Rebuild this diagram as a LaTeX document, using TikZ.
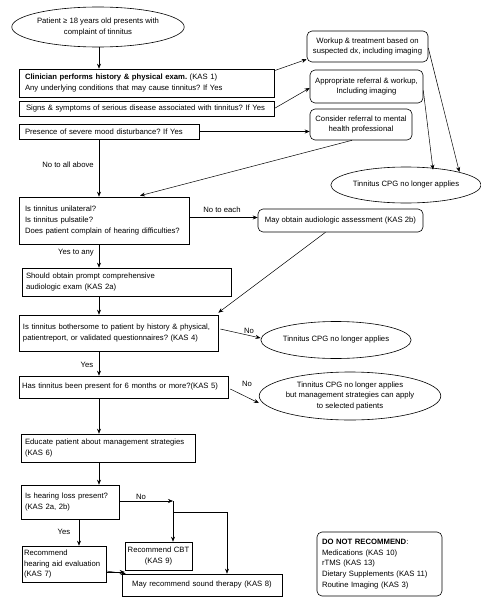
\documentclass[tikz,border=0pt]{standalone}
\usepackage{fontspec}
\setmainfont{Liberation Sans}
\usetikzlibrary{shapes.geometric,arrows.meta}
\frenchspacing
\begin{document}
\begin{tikzpicture}[x=1pt,y=-1pt,
  font=\fontsize{7.7}{10.8}\selectfont\frenchspacing,
  box/.style={draw, line width=0.6pt, rectangle, align=left, inner xsep=6pt, inner ysep=0pt},
  cbox/.style={draw, line width=0.6pt, rectangle, align=center, inner xsep=2pt, inner ysep=0pt},
  rbox/.style={draw, line width=0.6pt, rounded corners=5pt, align=center, inner sep=0pt},
  oval/.style={draw, line width=0.6pt, ellipse, align=center, inner sep=0pt},
  arr/.style={-{Stealth[length=5pt,width=4pt]}, line width=0.5pt},
  lbl/.style={inner sep=0pt}
]
\useasboundingbox (0,0) rectangle (480,597);
\coordinate (sp) at (99,0);
\coordinate (sp2) at (79,0);

% nodes
\node[oval, minimum width=170pt, minimum height=40pt] (start) at (98,27) {Patient ≥ 18 years old presents with\\complaint of tinnitus};
\node[box, text width=243pt, minimum height=28pt] (b1) at (146.5,83) {\textbf{Clinician performs history \& physical exam.} (KAS 1)\\Any underlying conditions that may cause tinnitus? If Yes};
\node[box, inner xsep=3pt, text width=249pt, minimum height=15pt] (b2) at (146.5,108.5) {\hspace*{4pt}Signs \& symptoms of serious disease associated with tinnitus? If Yes};
\node[box, text width=168pt, minimum height=15pt] (b3) at (109,131.5) {Presence of severe mood disturbance? If Yes};
\node[rbox, minimum width=121pt, minimum height=31pt] (r1) at (367.5,46.5) {Workup \& treatment based on\\suspected dx, including imaging};
\node[rbox, minimum width=113pt, minimum height=33pt] (r2) at (366.5,86.5) {Appropriate referral \& workup,\\Including imaging};
\node[rbox, minimum width=102pt, minimum height=31pt] (r3) at (361,124.5) {Consider referral to mental\\health professional};
\node[oval, minimum width=125pt, minimum height=36pt] (e2) at (406,185) {Tinnitus CPG no longer applies};
\node[box, text width=158pt, minimum height=47pt] (b4) at (104,220.5) {Is tinnitus unilateral?\\Is tinnitus pulsatile?\\Does patient complain of hearing difficulties?};
\node[rbox, minimum width=165pt, minimum height=23pt] (r4) at (340.5,220.5) {May obtain audiologic assessment (KAS 2b)};
\node[box, inner xsep=4pt, text width=201pt, minimum height=28pt] (b5) at (126.5,282) {Should obtain prompt comprehensive\\audiologic exam (KAS 2a)};
\node[box, inner xsep=4pt, text width=191pt, minimum height=36pt] (b6) at (118.5,333) {Is tinnitus bothersome to patient by history \& physical,\\patientreport, or validated questionnaires? (KAS 4)};
\node[oval, minimum width=126pt, minimum height=37pt] (e3) at (336,340) {Tinnitus CPG no longer applies};
\node[box, inner xsep=3pt, text width=203pt, minimum height=22pt] (b7) at (123.5,387) {Has tinnitus been present for 6 months or more?(KAS 5)};
\node[oval, minimum width=155pt, minimum height=48pt] (e4) at (350,396) {Tinnitus CPG no longer applies\\but management strategies can apply\\to selected patients};
\node[box, inner xsep=4pt, text width=166pt, minimum height=28pt] (b8) at (108,448) {Educate patient about management strategies\\(KAS 6)};
\node[box, inner xsep=4pt, text width=90pt, minimum height=34pt] (b9) at (70,502) {Is hearing loss present?\\(KAS 2a, 2b)};
\node[box, inner xsep=2pt, text width=80pt, minimum height=36pt] (b10) at (64,564) {Recommend\\hearing aid evaluation\\(KAS 7)};
\node[cbox, text width=63pt, minimum height=28pt] (cbt) at (158.5,556) {Recommend CBT\\(KAS 9)};
\node[cbox, text width=156pt, minimum height=22pt] (st) at (202,585) {May recommend sound therapy (KAS 8)};
\node[rbox, align=left, inner xsep=5pt, text width=115pt, minimum height=64pt] (dnr) at (379.5,564) {\textbf{DO NOT RECOMMEND}:\\Medications (KAS 10)\\rTMS (KAS 13)\\Dietary Supplements (KAS 11)\\Routine Imaging (KAS 3)};

% labels
\node[lbl] (l1) at (68,165) {No to all above};
\node[lbl] (l2) at (222,210) {No to each};
\node[lbl] (l3) at (76,253) {Yes to any};
\node[lbl] (l4) at (249,331) {No};
\node[lbl] (l5) at (87,365) {Yes};
\node[lbl] (l6) at (247,384) {No};
\node[lbl] (l7) at (141,497) {No};
\node[lbl] (l8) at (64,532) {Yes};

% junctions
\coordinate (j1) at (173,501);
\coordinate (j2) at (173,512);

% connectors
\draw[arr] (start.south -| sp) -- (b1.north -| sp);
\draw[arr] ([yshift=-2pt]b1.north east) -- ([yshift=3pt]r1.south west);
\draw[arr] (b2.east) -- ([yshift=-1.5pt]r2.west);
\draw[arr] (b3.east) -- (b3.east -| r3.west);
\draw[arr] (b3.south -| sp) -- (b4.north -| sp);
\draw[arr] ([xshift=-9pt]r3.south) -- ([xshift=36pt,yshift=1pt]b4.north);
\draw[arr] ([yshift=-1.5pt]r1.east) -- (e2.north east);
\draw[arr] ([yshift=-4pt]r2.east) -- ([xshift=27pt,yshift=-3pt]e2.north);
\draw[arr] ([yshift=3pt]b4.east) -- ([yshift=3pt]r4.west);
\draw[arr] (b4.south -| sp) -- (b5.north -| sp);
\draw[arr] ([xshift=-15pt]r4.south) -- ([yshift=2pt]b6.north east);
\draw[arr] (b5.south -| sp) -- (b6.north -| sp);
\draw[arr] ([xshift=2pt,yshift=4pt]b6.east) -- ([yshift=2pt]e3.west);
\draw[arr] (b6.south -| sp) -- (b7.north -| sp);
\draw[arr] ([xshift=2pt,yshift=-2pt]b7.east) -- ([yshift=-7pt]e4.west);
\draw[arr] (b7.south -| sp) -- (b8.north -| sp);
\draw[arr] (b8.south -| sp) -- (b9.north -| sp);
\draw[arr] (b9.east |- j1) -- (j1);
\draw[arr] (j1) -- (j1 |- cbt.north);
\draw[arr] (j2) -| ([xshift=25pt]st.north);
\draw[arr] (b9.south -| sp2) -- (b10.north -| sp2);
\draw[arr] ([yshift=-8pt]b10.east) -- ([yshift=-8pt]b10.east -| cbt.west);
\draw[arr] ([yshift=-7pt]b10.east) -- ([xshift=4pt]st.north west);
\end{tikzpicture}
\end{document}
